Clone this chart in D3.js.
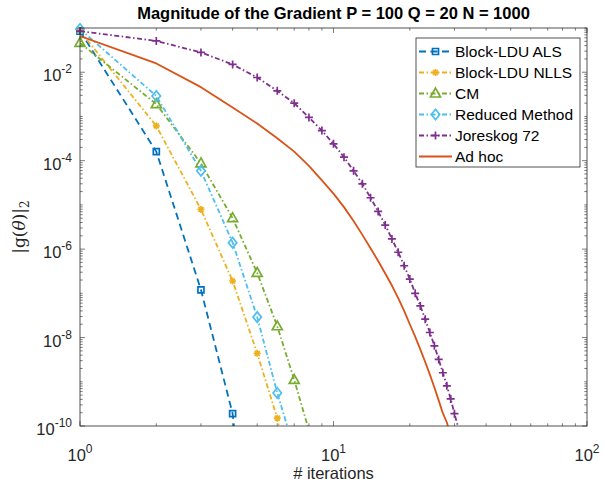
<!DOCTYPE html>
<html><head><meta charset="utf-8">
<script src="https://cdn.jsdelivr.net/npm/d3@7/dist/d3.min.js"></script>
<style>body{margin:0;background:#fff}svg{display:block}</style>
</head><body><svg id="c" width="605" height="487"></svg>
<script>
// ---- data ----
const seriesNames = ["Block-LDU ALS","Block-LDU NLLS","CM","Reduced Method","Joreskog 72","Ad hoc"];
const alsIter = [1,2,3,4,5];
const alsVal = [0.085,1.6e-4,1.2e-7,1.9e-10,1e-15];
const nllsIter = [1,2,3,4,5,6,7];
const nllsVal = [0.085,6.1e-4,7.9e-6,1.9e-7,4.4e-9,1.5e-10,1.5e-12];
const cmIter = [1,2,3,4,5,6,7,8];
const cmVal = [0.046,1.9e-3,8.7e-5,5e-6,2.9e-7,1.8e-8,1.1e-9,8e-11];
const reducedIter = [1,2,3,4,5,6,7];
const reducedVal = [0.095,2.9e-3,5.9e-5,1.4e-6,2.9e-8,5.6e-10,3e-11];
const joreskogIter = d3.range(1,32);
const joreskogVal = [8.5e-2,5.1e-2,2.8e-2,1.5e-2,7.6e-3,3.8e-3,2.0e-3,9.5e-4,4.8e-4,2.4e-4,1.2e-4,5.9e-5,3.0e-5,1.45e-5,7.1e-6,3.5e-6,1.7e-6,8.5e-7,4.2e-7,2.1e-7,1.0e-7,5.2e-8,2.6e-8,1.3e-8,6.5e-9,3.2e-9,1.6e-9,8.1e-10,4.1e-10,1.9e-10,9.5e-11];
const adhocIter = d3.range(1,30);
const adhocVal = [6.6e-2,1.58e-2,4.6e-3,1.6e-3,6.9e-4,3.2e-4,1.6e-4,7.6e-5,3.6e-5,1.8e-5,8.9e-6,4.3e-6,2.1e-6,1.05e-6,5.4e-7,2.8e-7,1.5e-7,7.8e-8,4.0e-8,2.0e-8,1.05e-8,5.4e-9,2.8e-9,1.45e-9,7.4e-10,3.8e-10,1.95e-10,1.2e-10,6.0e-11];
const xTickExp = [0,1,2];
const yTickExp = [-10,-8,-6,-4,-2];
const titleText = "Magnitude of the Gradient P = 100 Q = 20 N = 1000";
const xLabelText = "# iterations";

// ---- layout ----
const L=80,R=587,T=28,B=426;
const svg=d3.select("#c");
const x=d3.scaleLog().domain([1,100]).range([L,R]);
const y=d3.scaleLog().domain([1e-10,1e-1]).range([B,T]);
const axC="#262626";
const font="'Liberation Sans',Arial,sans-serif";

const series=[
 {name:seriesNames[0],it:alsIter,v:alsVal,color:"#0072BD",dash:"7,4.5",marker:"square"},
 {name:seriesNames[1],it:nllsIter,v:nllsVal,color:"#EDB120",dash:"5,2.5,1.5,2.5",marker:"asterisk"},
 {name:seriesNames[2],it:cmIter,v:cmVal,color:"#77AC30",dash:"5,2.5,1.5,2.5",marker:"triangle"},
 {name:seriesNames[3],it:reducedIter,v:reducedVal,color:"#4DBEEE",dash:"5,2.5,1.5,2.5",marker:"diamond"},
 {name:seriesNames[4],it:joreskogIter,v:joreskogVal,color:"#7E2F8E",dash:"5,2.5,1.5,2.5",marker:"plus"},
 {name:seriesNames[5],it:adhocIter,v:adhocVal,color:"#D95319",dash:null,marker:null}
];

function markerPath(t){
  switch(t){
    case "square": return "M-3,-3H3V3H-3Z";
    case "asterisk": return "M-3.5,0H3.5M0,-3.5V3.5M-2.5,-2.5L2.5,2.5M-2.5,2.5L2.5,-2.5";
    case "triangle": return "M0,-5.4L5,3.5L-5,3.5Z";
    case "diamond": return "M0,-5.2L4.2,0L0,5.2L-4.2,0Z";
    case "plus": return "M-4,0H4M0,-4V4";
  }
  return "";
}

svg.append("defs").append("clipPath").attr("id","pc").append("rect")
  .attr("x",L).attr("y",T).attr("width",R-L).attr("height",B-T);

svg.append("rect").attr("x",L).attr("y",T).attr("width",R-L).attr("height",B-T).attr("fill","#fff");

// ticks
const tk=svg.append("g").attr("stroke",axC).attr("stroke-width",0.6);
x.ticks().forEach(v=>{
  const major=xTickExp.some(e=>Math.abs(Math.log10(v)-e)<1e-9);
  const len=major?5:2.7;
  const px=x(v);
  tk.append("line").attr("x1",px).attr("x2",px).attr("y1",B).attr("y2",B-len);
  tk.append("line").attr("x1",px).attr("x2",px).attr("y1",T).attr("y2",T+len);
});
y.ticks().forEach(v=>{
  const major=yTickExp.some(e=>Math.abs(Math.log10(v)-e)<1e-9);
  const len=major?5:2.7;
  const py=y(v);
  tk.append("line").attr("x1",L).attr("x2",L+len).attr("y1",py).attr("y2",py);
  tk.append("line").attr("x1",R).attr("x2",R-len).attr("y1",py).attr("y2",py);
});

// series
const plot=svg.append("g").attr("clip-path","url(#pc)");
const line=d3.line().x(d=>x(d[0])).y(d=>y(d[1]));
series.forEach(s=>{
  const pts=s.it.map((t,i)=>[t,s.v[i]]);
  plot.append("path").attr("d",line(pts)).attr("fill","none")
    .attr("stroke",s.color).attr("stroke-width",1.8)
    .attr("stroke-dasharray",s.dash).attr("stroke-linejoin","round");
});
const mk=svg.append("g");
series.forEach(s=>{
  if(!s.marker) return;
  s.it.forEach((t,i)=>{
    const px=x(t),py=y(s.v[i]);
    if(py>B+0.5||py<T-6) return;
    mk.append("path").attr("d",markerPath(s.marker)).attr("transform",`translate(${px},${py})`)
      .attr("fill","none").attr("stroke",s.color).attr("stroke-width",1.7);
  });
});

// box
svg.append("rect").attr("x",L).attr("y",T).attr("width",R-L).attr("height",B-T)
  .attr("fill","none").attr("stroke",axC).attr("stroke-width",0.8);

// tick labels
const tfs=16.5, sfs=12;
xTickExp.forEach(e=>{
  const t=svg.append("text").attr("x",x(Math.pow(10,e))).attr("y",461).attr("text-anchor","middle")
    .attr("font-family",font).attr("font-size",tfs).attr("fill",axC);
  t.append("tspan").text("10");
  t.append("tspan").attr("dy",-8).attr("font-size",sfs).text(String(e));
});
yTickExp.forEach(e=>{
  const t=svg.append("text").attr("x",L-8).attr("y",y(Math.pow(10,e))+9).attr("text-anchor","end")
    .attr("font-family",font).attr("font-size",tfs).attr("fill",axC);
  t.append("tspan").text("10");
  t.append("tspan").attr("dy",-8).attr("font-size",sfs).text(String(e));
});

// axis labels
svg.append("text").attr("x",(L+R)/2).attr("y",479).attr("text-anchor","middle")
  .attr("font-family",font).attr("font-size",16.5).attr("fill",axC).text(xLabelText);
const yl=svg.append("text").attr("transform",`translate(25,${(T+B)/2}) rotate(-90)`).attr("text-anchor","middle")
  .attr("font-family","'DejaVu Serif','Liberation Serif',serif").attr("font-size",17).attr("fill",axC);
yl.append("tspan").text("|g(");
yl.append("tspan").attr("font-style","italic").text("θ");
yl.append("tspan").text(")|");
yl.append("tspan").attr("dy",4).attr("font-size",12).text("2");

// title
svg.append("text").attr("x",(L+R)/2).attr("y",19).attr("text-anchor","middle")
  .attr("font-family",font).attr("font-size",16.5).attr("font-weight","bold").attr("fill","#000").text(titleText);

// legend
const fs=15.5;
const lg=svg.append("g");
const lx=416,ly=38,lw=164,lh=129,rowH=21;
lg.append("rect").attr("x",lx).attr("y",ly).attr("width",lw).attr("height",lh)
  .attr("fill","#fff").attr("stroke",axC).attr("stroke-width",0.8);
series.forEach((s,i)=>{
  const cy=ly+13.5+i*rowH;
  lg.append("line").attr("x1",lx+3).attr("x2",lx+36).attr("y1",cy).attr("y2",cy)
    .attr("stroke",s.color).attr("stroke-width",1.8).attr("stroke-dasharray",s.dash);
  if(s.marker) lg.append("path").attr("d",markerPath(s.marker)).attr("transform",`translate(${lx+19.5},${cy})`)
    .attr("fill","none").attr("stroke",s.color).attr("stroke-width",1.7);
  lg.append("text").attr("x",lx+39).attr("y",cy+5.5).attr("font-family",font).attr("font-size",fs)
    .attr("fill","#000").text(s.name);
});
</script></body></html>
